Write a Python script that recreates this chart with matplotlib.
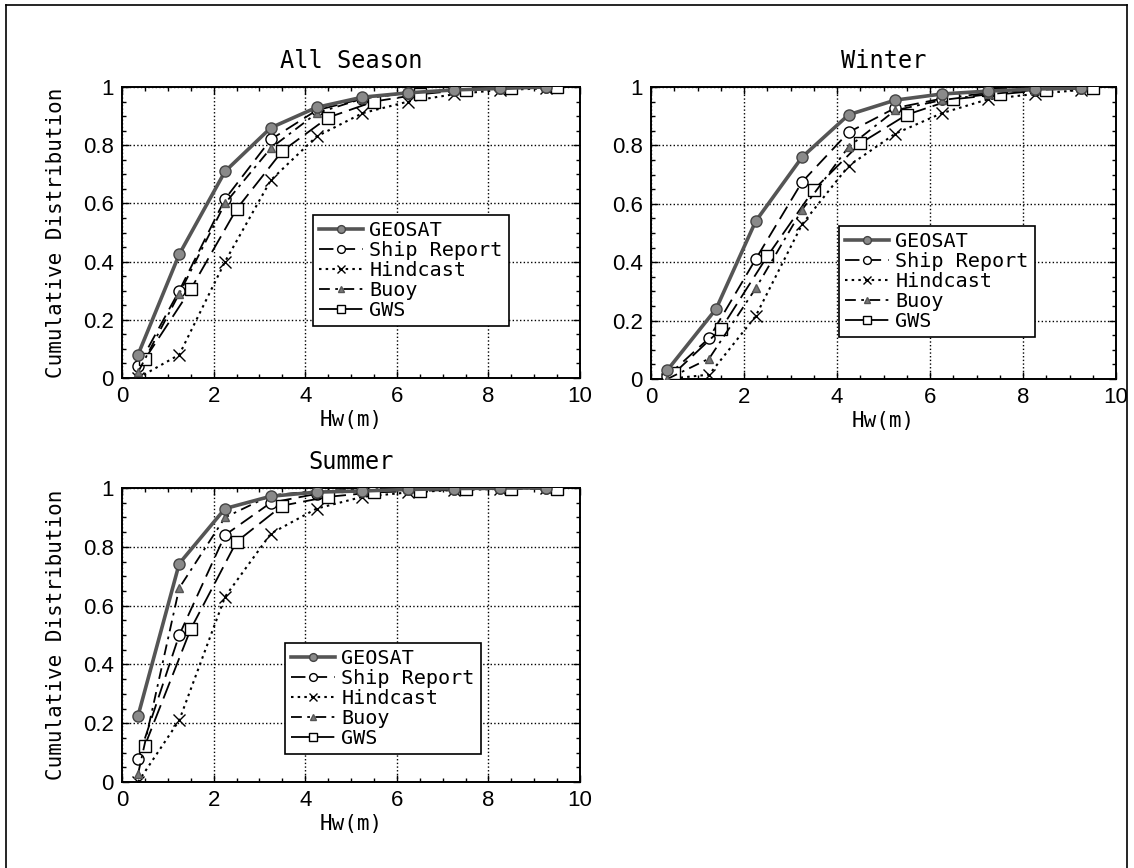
import numpy as np
import matplotlib
matplotlib.use('Agg')
import matplotlib.pyplot as plt
from matplotlib.ticker import MultipleLocator
from matplotlib.lines import Line2D

# ---- data ----
x_main = [0.35, 1.25, 2.25, 3.25, 4.25, 5.25, 6.25, 7.25, 8.25, 9.25]
x_gws = [0.5, 1.5, 2.5, 3.5, 4.5, 5.5, 6.5, 7.5, 8.5, 9.5]

all_geosat = [0.08, 0.425, 0.71, 0.86, 0.93, 0.965, 0.98, 0.99, 0.995, 1.0]
all_ship = [0.04, 0.30, 0.615, 0.82, 0.92, 0.96, 0.98, 0.99, 0.995, 1.0]
all_hind = [0.0, 0.08, 0.40, 0.68, 0.83, 0.91, 0.95, 0.975, 0.99, 0.995]
all_buoy = [0.02, 0.29, 0.60, 0.79, 0.91, 0.96, 0.98, 0.99, 0.995, 1.0]
all_gws = [0.065, 0.305, 0.58, 0.78, 0.895, 0.95, 0.975, 0.99, 0.995, 1.0]

win_geosat_x = [0.35, 1.4, 2.25, 3.25, 4.25, 5.25, 6.25, 7.25, 8.25, 9.25]
win_geosat = [0.03, 0.24, 0.54, 0.76, 0.905, 0.955, 0.976, 0.986, 0.993, 0.997]
win_ship = [0.01, 0.14, 0.41, 0.675, 0.845, 0.928, 0.96, 0.98, 0.99, 0.997]
win_hind = [0.0, 0.015, 0.215, 0.53, 0.73, 0.84, 0.91, 0.958, 0.976, 0.99]
win_buoy = [0.0, 0.07, 0.31, 0.58, 0.795, 0.92, 0.955, 0.975, 0.99, 0.995]
win_gws = [0.02, 0.17, 0.42, 0.648, 0.807, 0.905, 0.958, 0.975, 0.99, 0.997]

sum_geosat = [0.225, 0.743, 0.93, 0.972, 0.986, 0.99, 0.995, 0.998, 1.0, 1.0]
sum_ship = [0.078, 0.50, 0.84, 0.95, 0.98, 0.99, 0.995, 0.998, 1.0, 1.0]
sum_hind = [0.0, 0.21, 0.63, 0.845, 0.93, 0.97, 0.985, 0.993, 0.997, 1.0]
sum_buoy = [0.027, 0.66, 0.90, 0.975, 0.99, 0.995, 0.998, 1.0, 1.0, 1.0]
sum_gws = [0.124, 0.52, 0.817, 0.94, 0.97, 0.985, 0.99, 0.995, 0.997, 0.997]

labels = ['GEOSAT', 'Ship Report', 'Hindcast', 'Buoy', 'GWS']

W, H = 1134, 868
fig = plt.figure(figsize=(W / 100, H / 100), dpi=100)

mono = 'DejaVu Sans Mono'
tickfont = 'Liberation Sans'


def px_rect(l, t, r, b):
    return [l / W, 1 - b / H, (r - l) / W, (b - t) / H]


def panel(rect, title, data, leg_xy, ylabel=True):
    ax = fig.add_axes(px_rect(*rect))
    gx, g, s, h, bu, gw = data
    ax.plot(gx, g, color='#555555', lw=2.6, marker='o', ms=8,
            mfc='#8a8a8a', mec='#444444', label=labels[0], zorder=6)
    ax.plot(x_main, s, color='k', lw=1.3, dashes=(8, 4), marker='o', ms=8,
            mfc='white', mec='k', label=labels[1], zorder=4)
    ax.plot(x_main, h, color='k', lw=1.5, dashes=(1.2, 2), marker='x', ms=9,
            mec='k', label=labels[2], zorder=3)
    ax.plot(x_main, bu, color='k', lw=1.3, dashes=(6, 3, 1.5, 3), marker='^', ms=6,
            mfc='#777777', mec='#555555', label=labels[3], zorder=5)
    ax.plot(x_gws, gw, color='k', lw=1.3, dashes=(10, 4), marker='s', ms=9,
            mfc='white', mec='k', label=labels[4], zorder=4)

    ax.set_xlim(0, 10)
    ax.set_ylim(0, 1)
    ax.set_xticks([0, 2, 4, 6, 8, 10])
    ax.set_yticks([0, 0.2, 0.4, 0.6, 0.8, 1])
    ax.set_yticklabels(['0', '0.2', '0.4', '0.6', '0.8', '1'])
    ax.xaxis.set_minor_locator(MultipleLocator(0.5))
    ax.yaxis.set_minor_locator(MultipleLocator(0.05))
    ax.tick_params(which='both', direction='in', top=True, right=True, width=1)
    ax.tick_params(which='major', length=5, labelsize=16, pad=6)
    ax.tick_params(which='minor', length=3)
    for lab in ax.get_xticklabels() + ax.get_yticklabels():
        lab.set_family(tickfont)
    ax.grid(True, which='major', ls=':', color='k', lw=1)
    for sp in ax.spines.values():
        sp.set_linewidth(1.4)

    ax.set_title(title, family=mono, fontsize=17, pad=14)
    ax.set_xlabel('Hw(m)', family=mono, fontsize=15, labelpad=2)
    if ylabel:
        ax.set_ylabel('Cumulative Distribution', family=mono, fontsize=15, labelpad=12)

    leg = ax.legend(loc='upper left', bbox_to_anchor=leg_xy, borderaxespad=0,
                    prop={'family': mono, 'size': 14.5}, handlelength=2.2,
                    handletextpad=0.3, labelspacing=0.05, borderpad=0.3,
                    fancybox=False, framealpha=1, edgecolor='k', markerscale=0.7)
    leg.get_frame().set_linewidth(1.2)
    leg.set_zorder(10)
    return ax


panel((122, 87, 580, 378), 'All Season',
      (x_main, all_geosat, all_ship, all_hind, all_buoy, all_gws), (0.417, 0.56))
panel((651, 87, 1116, 379), 'Winter',
      (win_geosat_x, win_geosat, win_ship, win_hind, win_buoy, win_gws), (0.404, 0.524),
      ylabel=False)
panel((122, 488, 580, 782), 'Summer',
      (x_main, sum_geosat, sum_ship, sum_hind, sum_buoy, sum_gws), (0.356, 0.473))

# outer frame of the scanned figure
fx = lambda p: p / W
fy = lambda p: 1 - p / H
fig.add_artist(Line2D([fx(6), fx(6)], [fy(5), 0], color='k', lw=1.2))
fig.add_artist(Line2D([fx(6), fx(1127)], [fy(5), fy(5)], color='k', lw=1.2))
fig.add_artist(Line2D([fx(1127), fx(1127)], [fy(5), 0], color='k', lw=1.2))

plt.savefig('out.png', dpi=100)
